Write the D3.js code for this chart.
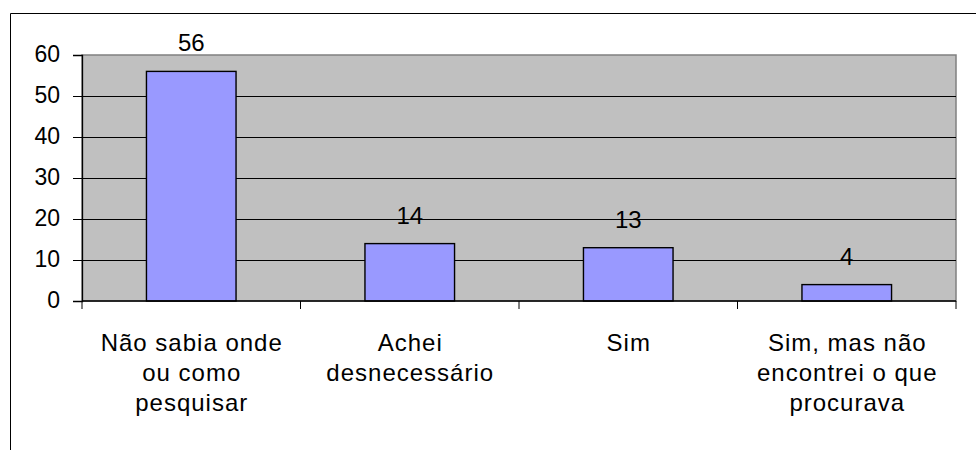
<!DOCTYPE html>
<html>
<head>
<meta charset="utf-8">
<script src="https://cdn.jsdelivr.net/npm/d3@7"></script>
<style>
  html, body { margin: 0; padding: 0; background: #fff; }
  svg { display: block; }
  text { font-family: "Liberation Sans", Arial, sans-serif; fill: #000; }
</style>
</head>
<body>
<svg id="chart" width="976" height="450"></svg>
<script>
const categories = [
  ["Não sabia onde", "ou como", "pesquisar"],
  ["Achei", "desnecessário"],
  ["Sim"],
  ["Sim, mas não", "encontrei o que", "procurava"]
];
const categoryKeys = ["Não sabia onde ou como pesquisar", "Achei desnecessário", "Sim", "Sim, mas não encontrei o que procurava"];
const values = [56, 14, 13, 4];
const yTicks = [0, 10, 20, 30, 40, 50, 60];

(function () {
const svg = d3.select("#chart");
const pL = 82, pR = 956, pT = 55, pB = 301;
const fontSize = 24;

// outer chart border (top and left visible)
svg.append("path")
  .attr("d", `M10.5,450 L10.5,13.5 L976,13.5`)
  .attr("fill", "none").attr("stroke", "#000").attr("stroke-width", 1);

const x = d3.scaleBand().domain(categoryKeys).range([pL, pR]).padding(0);
const y = d3.scaleLinear().domain([0, 60]).range([pB, pT]);

// plot area
svg.append("rect")
  .attr("x", pL).attr("y", pT)
  .attr("width", pR - pL).attr("height", pB - pT)
  .attr("fill", "#C0C0C0").attr("stroke", "#808080").attr("stroke-width", 1.5);

// gridlines
svg.append("g").selectAll("line")
  .data(yTicks.filter(d => d > 0 && d < 60))
  .join("line")
  .attr("x1", pL).attr("x2", pR)
  .attr("y1", d => Math.round(y(d)) + 0.5).attr("y2", d => Math.round(y(d)) + 0.5)
  .attr("stroke", "#000").attr("stroke-width", 1);

// y axis
const yAxis = svg.append("g")
  .attr("transform", `translate(${pL},0)`)
  .call(d3.axisLeft(y).tickValues(yTicks).tickSize(9).tickPadding(13));
yAxis.select(".domain").attr("stroke", "#000").attr("stroke-width", 1.3);
yAxis.selectAll(".tick line").attr("stroke", "#000").attr("stroke-width", 1);
yAxis.selectAll(".tick text")
  .attr("font-family", '"Liberation Sans", Arial, sans-serif')
  .attr("font-size", 23).attr("fill", "#000").attr("dy", "0.29em");

// bars
const barW = x.bandwidth() * 0.41;
svg.append("g").selectAll("rect")
  .data(values)
  .join("rect")
  .attr("x", (d, i) => x(categoryKeys[i]) + (x.bandwidth() - barW) / 2)
  .attr("y", d => y(d))
  .attr("width", barW)
  .attr("height", d => y(0) - y(d))
  .attr("fill", "#9999FF").attr("stroke", "#000").attr("stroke-width", 1.4);

// x axis line and ticks
const xAxis = svg.append("g").attr("transform", `translate(0,${pB})`);
xAxis.append("line").attr("x1", pL).attr("x2", pR).attr("y1", 0).attr("y2", 0)
  .attr("stroke", "#000").attr("stroke-width", 1.3);
const bounds = categoryKeys.map(k => x(k)).concat([x(categoryKeys[categoryKeys.length - 1]) + x.bandwidth()]);
xAxis.selectAll("line.tk").data(bounds).join("line").attr("class", "tk")
  .attr("x1", d => d).attr("x2", d => d).attr("y1", 0).attr("y2", 8)
  .attr("stroke", "#000").attr("stroke-width", 1);

// category labels
const catG = svg.append("g");
categories.forEach((lines, i) => {
  const cx = x(categoryKeys[i]) + x.bandwidth() / 2;
  const t = catG.append("text")
    .attr("text-anchor", "middle")
    .attr("font-size", fontSize)
    .attr("letter-spacing", 1);
  lines.forEach((ln, j) => {
    t.append("tspan").attr("x", cx + 0.5).attr("y", pB + 50 + j * 30).text(ln);
  });
});

// value labels
svg.append("g").selectAll("text")
  .data(values)
  .join("text")
  .attr("x", (d, i) => x(categoryKeys[i]) + x.bandwidth() / 2)
  .attr("y", d => y(d) - 20)
  .attr("text-anchor", "middle")
  .attr("font-size", fontSize)
  .text(d => d);
})();
</script>
</body>
</html>
